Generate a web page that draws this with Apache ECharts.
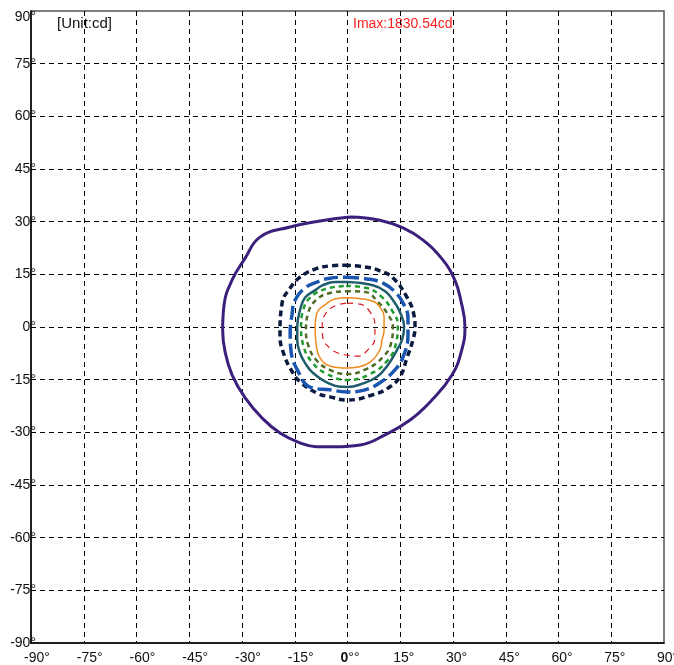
<!DOCTYPE html>
<html>
<head>
<meta charset="utf-8">
<script src="https://cdn.jsdelivr.net/npm/echarts@6/dist/echarts.min.js"></script>
<style>
html,body{margin:0;padding:0;background:#fff;}
#main{width:674px;height:665px;}
</style>
</head>
<body>
<div id="main"></div>
<script>
// Axis ticks (degrees)
const xTicks = [-90,-75,-60,-45,-30,-15,0,15,30,45,60,75,90];
const yTicks = [-90,-75,-60,-45,-30,-15,0,15,30,45,60,75,90];
const unitText = '[Unit:cd]';
const imaxText = 'Imax:1830.54cd';

// Isocandela contour points [x deg, y deg], outer to inner
const ringPurple = [[0.7,31.3],[9.2,30.4],[15.8,28.2],[21.4,24.8],[27.1,19.1],[30.5,13.4],[32.2,7.7],[33.4,0],[32.5,-6.5],[29.7,-13.7],[24.0,-20.8],[17.8,-26.5],[10.7,-30.7],[3.6,-33.6],[-3.6,-34.1],[-8.9,-34.1],[-13.5,-33.0],[-19.2,-30.2],[-24.3,-25.9],[-29.1,-20.2],[-32.8,-13.7],[-34.8,-7.1],[-35.5,-0.9],[-35.1,6.3],[-32.8,13.4],[-29.1,19.6],[-24.9,25.6],[-16.3,28.5],[-7.8,30.2],[0.7,31.3]];
const ringNavy = [[-0.7,17.6],[5.0,17.1],[9.2,16.0],[12.9,14.0],[16.9,8.5],[18.9,3.4],[19.2,0],[18.6,-3.7],[16.9,-8.8],[14.9,-14.2],[11.5,-17.4],[7.2,-19.3],[-0.1,-20.8],[-5.0,-19.9],[-8.7,-18.8],[-13.5,-15.6],[-15.5,-13.1],[-18.0,-8.0],[-19.2,-2.3],[-18.6,6.8],[-16.3,11.1],[-13.5,14.2],[-9.2,16.5],[-5.0,17.4],[-0.7,17.6]];
const ringBlue = [[-0.7,14.2],[5.5,13.7],[10.1,12.5],[13.5,10.0],[15.8,6.8],[17.2,2.6],[17.2,-2.3],[15.8,-8.5],[13.5,-12.2],[9.2,-15.9],[5.0,-17.9],[-0.1,-18.5],[-5.0,-17.9],[-10.7,-17.1],[-13.5,-13.7],[-16.1,-6.5],[-16.3,-1.7],[-15.8,3.4],[-14.9,7.7],[-12.1,11.1],[-8.7,12.8],[-5.0,13.9],[-0.7,14.2]];
const ringTeal = [[-0.1,12.8],[7.2,11.9],[10.7,10.2],[12.9,7.7],[14.9,4.3],[16.1,0],[15.5,-3.7],[14.1,-6.5],[11.5,-10.8],[8.4,-14.2],[4.1,-16.2],[-0.1,-17.1],[-5.0,-16.2],[-9.8,-13.1],[-12.1,-10.2],[-13.5,-7.4],[-14.3,-3.7],[-14.3,0],[-13.5,4.8],[-12.1,8.3],[-9.2,10.5],[-7.0,11.9],[-3.6,12.8],[-0.1,12.8]];
const ringGreen = [[-0.4,11.7],[5.5,11.1],[9.8,8.5],[12.6,4.8],[14.3,0.6],[13.8,-4.6],[11.5,-9.4],[6.4,-13.4],[-0.1,-15.1],[-5.8,-13.4],[-10.1,-10.0],[-12.6,-5.1],[-13.2,0],[-12.6,4.8],[-10.7,8.3],[-6.4,10.8],[-0.4,11.7]];
const ringOlive = [[-0.4,10.2],[5.0,10.0],[8.7,7.1],[11.2,4.0],[12.9,0],[12.4,-4.6],[10.1,-8.5],[5.5,-11.9],[-0.1,-13.4],[-5.0,-12.2],[-8.9,-9.4],[-11.2,-5.1],[-11.8,-0.9],[-11.2,4.0],[-8.9,7.7],[-5.0,9.7],[-0.4,10.2]];
const ringOrange = [[-0.1,8.3],[7.0,7.4],[9.2,5.7],[10.4,2.6],[10.4,-0.9],[9.8,-3.7],[9.2,-6.5],[6.4,-10.0],[3.0,-11.4],[-0.1,-11.7],[-5.0,-11.1],[-7.8,-8.8],[-8.9,-5.1],[-9.2,-0.3],[-8.7,4.0],[-6.4,6.3],[-3.6,8.0],[-0.1,8.3]];
const ringRed = [[-0.1,6.8],[3.6,6.5],[6.4,4.3],[7.8,0.6],[7.8,-3.1],[5.8,-6.5],[3.0,-8.3],[-0.1,-8.0],[-2.7,-7.4],[-5.0,-6.0],[-7.0,-3.1],[-7.2,0.3],[-6.1,4.0],[-3.6,6.0],[-0.1,6.8]];

const chart = echarts.init(document.getElementById('main'), null, {renderer:'canvas'});
const FONT = 'Liberation Sans, Arial, sans-serif';

function ring(data, color, width, type){
  return {type:'line', data:data, showSymbol:false, symbol:'none', smooth:0.45,
    lineStyle:{color:color, width:width, type:type}, silent:true, animation:false};
}

chart.setOption({
  animation:false,
  backgroundColor:'#fff',
  grid:{left:31, right:10, top:11, bottom:22, outerBoundsMode:'none', containLabel:false,
    show:true, borderColor:'#555', borderWidth:1.5, backgroundColor:'transparent'},
  xAxis:{type:'value', min:xTicks[0], max:xTicks[xTicks.length-1], interval:15,
    axisLine:{show:true, onZero:false, lineStyle:{color:'#000', width:1.5}},
    axisTick:{show:false},
    splitLine:{show:true, showMinLine:false, showMaxLine:false, lineStyle:{color:'#000', width:1, type:[5,4]}},
    axisLabel:{margin:8, fontFamily:FONT, fontSize:14, color:'#111', align:'left', padding:[0,0,0,-7],
      hideOverlap:false,
      formatter:function(v){ return v===0 ? '{b|0}°°' : v+'°'; },
      rich:{b:{fontWeight:'bold', fontFamily:FONT, fontSize:14, color:'#111'}}}
  },
  yAxis:{type:'value', min:yTicks[0], max:yTicks[yTicks.length-1], interval:15,
    axisLine:{show:true, onZero:false, lineStyle:{color:'#000', width:1.5}},
    axisTick:{show:false},
    splitLine:{show:true, showMinLine:false, showMaxLine:false, lineStyle:{color:'#000', width:1, type:[5,4]}},
    axisLabel:{margin:-5, fontFamily:FONT, fontSize:14, color:'#111', hideOverlap:false,
      formatter:function(v){ return v===90 ? '{t|90°}' : v+'°'; },
      rich:{t:{fontFamily:FONT, fontSize:14, color:'#111', padding:[12,0,0,0]}}}
  },
  graphic:[
    {type:'text', left:57, top:16, style:{text:unitText, font:'15px '+FONT, fill:'#111'}},
    {type:'text', left:353, top:17, style:{text:imaxText, font:'14px '+FONT, fill:'#ff2020'}}
  ],
  series:[
    ring(ringPurple, '#3c1f7c', 3, 'solid'),
    ring(ringNavy, '#0b1a3e', 3.5, [6,4]),
    ring(ringBlue, '#1a56b0', 3.5, [14,5]),
    ring(ringTeal, '#1f5d6c', 2.5, 'solid'),
    ring(ringGreen, '#1f9a2e', 2.5, [5,4]),
    ring(ringOlive, '#4f6b24', 2.5, [5,4]),
    ring(ringOrange, '#f08c1e', 1.5, 'solid'),
    ring(ringRed, '#e01a22', 1.2, [6,5])
  ]
});
</script>
</body>
</html>
